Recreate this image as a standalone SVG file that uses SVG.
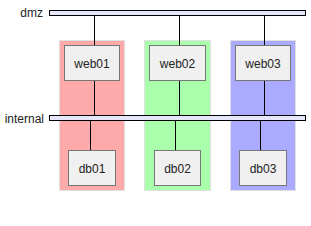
<svg xmlns="http://www.w3.org/2000/svg" width="311" height="226" viewBox="0 0 311 226">
<style>
text{font-family:"Liberation Sans",Arial,sans-serif;font-size:12px;fill:#222}
.grp{stroke:#e0e0e0;stroke-width:1}
.bar{fill:#e6e6fa;stroke:#000;stroke-width:1}
.box{fill:#f0f0f0;stroke:#777;stroke-width:1}
.ln{stroke:#000;stroke-width:1;fill:none}
.lbl{text-anchor:end}
.c{text-anchor:middle}
</style>
<rect width="311" height="226" fill="#fff"/>
<g id="groups">
<rect class="grp" x="59.5" y="40.5" width="65" height="150" fill="#ffaaaa"/>
<rect class="grp" x="144.5" y="40.5" width="66" height="150" fill="#aaffaa"/>
<rect class="grp" x="230.5" y="40.5" width="65" height="150" fill="#aaaaff"/>
</g>
<g id="connectors">
<path class="ln" d="M94.5 15.5V45.5M94.5 80.5V115.5M179.5 15.5V45.5M179.5 80.5V115.5M264.5 15.5V45.5M264.5 80.5V115.5M90.5 120.5V150.5M175.5 120.5V150.5M260.5 120.5V150.5"/>
</g>
<g id="dmz">
<rect class="bar" x="49.5" y="10.5" width="256" height="5"/>
<text class="lbl" x="43" y="16.5">dmz</text>
</g>
<g id="internal">
<rect class="bar" x="49.5" y="115.5" width="256" height="5"/>
<text class="lbl" x="44" y="122.5">internal</text>
</g>
<g id="web01"><rect class="box" x="64.5" y="45.5" width="55" height="35"/><text class="c" x="92" y="67.5">web01</text></g>
<g id="web02"><rect class="box" x="149.5" y="45.5" width="56" height="35"/><text class="c" x="177.5" y="67.5">web02</text></g>
<g id="web03"><rect class="box" x="235.5" y="45.5" width="55" height="35"/><text class="c" x="263" y="67.5">web03</text></g>
<g id="db01"><rect class="box" x="68.5" y="150.5" width="47" height="35"/><text class="c" x="92" y="172.5">db01</text></g>
<g id="db02"><rect class="box" x="154.5" y="150.5" width="46" height="35"/><text class="c" x="177.5" y="172.5">db02</text></g>
<g id="db03"><rect class="box" x="239.5" y="150.5" width="47" height="35"/><text class="c" x="263" y="172.5">db03</text></g>
</svg>
